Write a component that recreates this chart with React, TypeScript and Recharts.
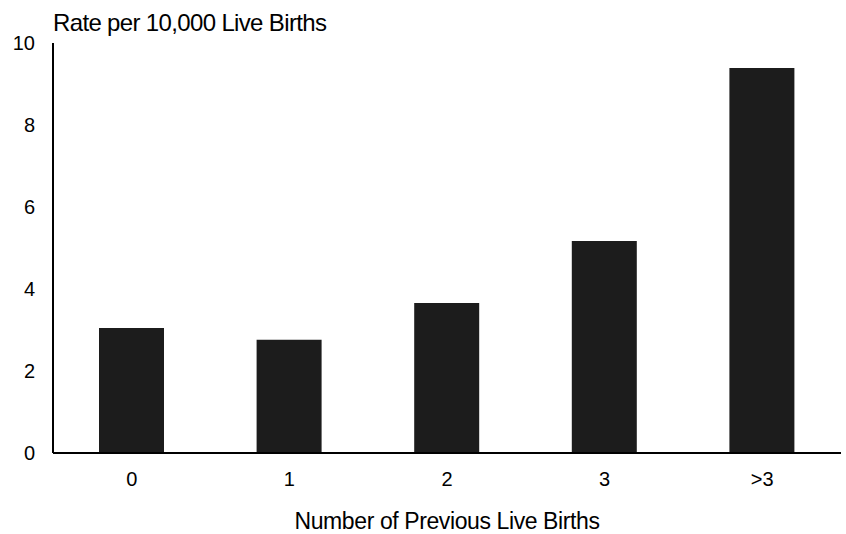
import React from 'react';
import { BarChart, Bar, XAxis, YAxis } from 'recharts';

const categories = ['0', '1', '2', '3', '>3'];
const rates = [3.05, 2.76, 3.66, 5.17, 9.39];
const yTicks = [0, 2, 4, 6, 8, 10];

const data = categories.map((name, i) => ({ name, rate: rates[i] }));

const FONT = '"Liberation Sans", Arial, sans-serif';

export default function App() {
  return (
    <div style={{ position: 'absolute', left: 0, top: 0, width: 846, height: 534, background: '#fff', fontFamily: FONT }}>
      <div
        style={{
          position: 'absolute',
          left: 53,
          top: 9,
          fontSize: 24,
          lineHeight: '27px',
          letterSpacing: -0.65,
          color: '#000',
          whiteSpace: 'nowrap',
        }}
      >
        Rate per 10,000 Live Births
      </div>
      <BarChart
        width={846}
        height={534}
        data={data}
        margin={{ top: 43, right: 5, bottom: 0, left: 0 }}
      >
        <YAxis
          domain={[0, 10]}
          ticks={yTicks}
          width={53}
          tickLine={false}
          axisLine={{ stroke: '#000', strokeWidth: 2 }}
          tickMargin={12}
          tick={{ fill: '#000', fontSize: 20, fontFamily: FONT }}
        />
        <XAxis
          dataKey="name"
          height={81}
          tickLine={false}
          axisLine={{ stroke: '#000', strokeWidth: 2 }}
          tickMargin={13}
          tick={{ fill: '#000', fontSize: 20, fontFamily: FONT }}
          label={{
            value: 'Number of Previous Live Births',
            position: 'insideBottom',
            offset: 5,
            fill: '#000',
            fontSize: 23,
            fontFamily: FONT,
            letterSpacing: -0.4,
          }}
        />
        <Bar dataKey="rate" fill="#1c1c1c" barSize={65} isAnimationActive={false} />
      </BarChart>
    </div>
  );
}
